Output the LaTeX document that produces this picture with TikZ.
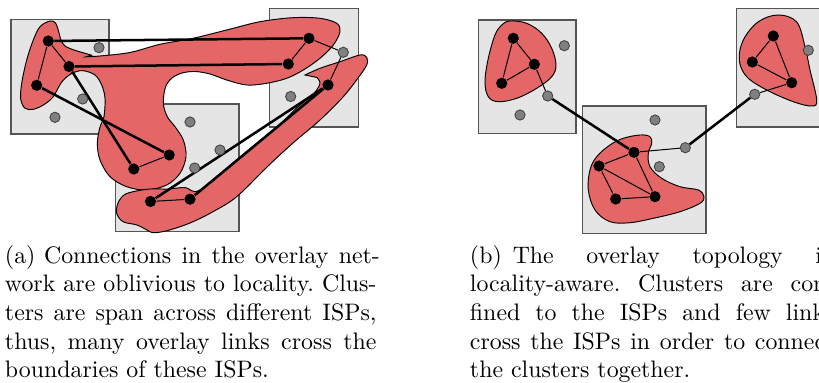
\documentclass[tikz,border=0pt]{standalone}
\definecolor{blobred}{RGB}{229,102,102}
\definecolor{ispfill}{RGB}{229,229,229}
\definecolor{ispdraw}{RGB}{85,85,85}
\definecolor{peergray}{RGB}{128,128,128}
\pgfdeclarelayer{bglayer}
\pgfdeclarelayer{blobl}
\pgfdeclarelayer{edgel}
\pgfsetlayers{bglayer,blobl,edgel,main}
\begin{document}
\frenchspacing
\begin{tikzpicture}[x=0.4193pt,y=-0.4193pt,
  peer/.style={circle,fill=black,inner sep=0pt,minimum size=4.7pt},
  idle/.style={circle,fill=peergray,draw=black!75,line width=0.35pt,inner sep=0pt,minimum size=4.3pt},
  isp/.style={fill=ispfill,draw=ispdraw,line width=0.45pt},
  blob/.style={fill=blobred,draw=black,line width=0.4pt},
  thinlink/.style={line width=0.42pt},
  thicklink/.style={line width=1.05pt},
  capline/.style={anchor=base west,inner sep=0pt}]
\useasboundingbox (0,0) rectangle (819,383);

% ---------------- (a) ----------------
\begin{pgfonlayer}{bglayer}
\draw[isp] (11,19.3) rectangle (109,134);
\draw[isp] (115.7,104) rectangle (239,231.5);
\draw[isp] (269.3,8.3) rectangle (358.3,127);
\end{pgfonlayer}
\begin{pgfonlayer}{blobl}
\draw[blob] plot[smooth,tension=0.55] coordinates {(86,56.8) (100,56) (130,52.5) (160,44.3) (193,38.3) (226.7,30) (260,21.7) (293,17.7) (320,18.3) (336.7,23.3) (340,31.7) (333.3,45) (320,58.3) (303.3,70) (286.7,78.3) (266.7,83.3) (246.7,85) (226.7,80) (210,74) (195,71.5) (182,73) (172,78) (165.5,87) (163.3,103.3) (167.3,116.7) (175,126.7) (183.3,140) (186,156.7) (180,173.3) (166.7,185) (146.7,190) (126.7,186.7) (110,176.7) (100,160) (97.3,143.3) (100,127) (104,116.7) (105,98.3) (101.7,85) (95,75) (83,70.7) (72,73.3) (62,81.7) (53,97) (43.3,105) (33.3,109.3) (25,108.3) (20.7,99) (21.7,83.3) (26.7,60) (33.3,40) (40,26.7) (50,21) (55.5,23) (58.5,31) (61,40) (65,46) (74,50) (85,53.3) (91.5,55.2)} -- cycle;
\draw[blob] plot[smooth,tension=0.55] coordinates {(305,75) (320,68.3) (340,61.7) (360,55) (366.7,57.3) (366.7,65) (358,78) (343,97) (320,120) (293,143) (267,167) (236.7,196.7) (213,211.7) (190,223) (167,230.7) (153,232.7) (147,230) (137,225) (123,221.7) (116.7,213.3) (118,203) (124,195) (134,191.5) (150,189) (168,189) (185,187.5) (200,190) (240,157) (280,124) (296,108.5) (306,100) (316,91) (320,83) (317,77.5)} -- cycle;
\end{pgfonlayer}

\node[peer] (a1) at (48.3,41) {};
\node[peer] (a2) at (69,66.5) {};
\node[peer] (a3) at (36.7,85.3) {};
\node[peer] (a4) at (133.8,169) {};
\node[peer] (a5) at (169.2,155) {};
\node[peer] (a6) at (309,38.3) {};
\node[peer] (a7) at (288.3,64) {};
\node[peer] (a8) at (328,85) {};
\node[peer] (a9) at (150.5,201.5) {};
\node[peer] (a10) at (190,199.2) {};
\node[idle] (ag1) at (99,47.7) {};
\node[idle] (ag2) at (82.7,99) {};
\node[idle] (ag3) at (55,117.3) {};
\node[idle] (ag4) at (190,122) {};
\node[idle] (ag5) at (220,150) {};
\node[idle] (ag6) at (194.7,168) {};
\node[idle] (ag7) at (343.3,52.3) {};
\node[idle] (ag8) at (290.7,96.5) {};

\begin{pgfonlayer}{edgel}
\draw[thicklink] (a1) -- (a6);
\draw[thicklink] (a2) -- (a7);
\draw[thicklink] (a3) -- (a5);
\draw[thicklink] (a2) -- (a4);
\draw[thicklink] (a8) -- (a9);
\draw[thicklink] (a8) -- (a10);
\draw[thinlink] (a1) -- (a2);
\draw[thinlink] (a1) -- (a3);
\draw[thinlink] (a4) -- (a5);
\draw[thinlink] (a6) -- (a7);
\draw[thinlink] (a6) -- (ag7);
\draw[thinlink] (ag7) -- (a8);
\draw[thinlink] (a9) -- (a10);
\end{pgfonlayer}

% ---------------- (b) ----------------
\begin{pgfonlayer}{bglayer}
\draw[isp] (478.3,20) rectangle (576,133.3);
\draw[isp] (582.7,106) rectangle (706,233.3);
\draw[isp] (736.7,8.3) rectangle (830,127);
\end{pgfonlayer}
\begin{pgfonlayer}{blobl}
\draw[blob] plot[smooth cycle,tension=0.6] coordinates {(510,21) (526.7,23.3) (541.7,33.3) (551.7,48.3) (556,65) (551.7,76.7) (536.7,88.3) (516.7,98.3) (498.3,101.7) (488.3,96.7) (485,81.7) (488.3,58.3) (495,35) (501.7,25)};
\draw[blob] plot[smooth cycle,tension=0.6] coordinates {(623.3,138.3) (640,135) (650,136.7) (651.7,143.3) (648.3,153.3) (650,166.7) (661.7,178.3) (680,186.7) (698.3,190) (704,196.7) (700,203.3) (680,211.7) (653.3,218.3) (630,222.7) (610,221.7) (595,210) (588.3,190) (590,170) (596.7,156.7) (610,145)};
\draw[blob] plot[smooth cycle,tension=0.6] coordinates {(778,15) (796.7,22) (805,46.7) (810,70) (816.7,100) (811.7,106) (793.3,101.7) (766.7,90) (746.7,76.7) (739.3,60) (743.3,40) (758,22)};
\end{pgfonlayer}

\node[peer] (b1) at (513.3,38.3) {};
\node[peer] (b2) at (534.3,64.3) {};
\node[peer] (b3) at (501.7,83.3) {};
\node[peer] (b4) at (599,166) {};
\node[peer] (b5) at (634,152.3) {};
\node[peer] (b6) at (773.3,36) {};
\node[peer] (b7) at (752.3,62) {};
\node[peer] (b8) at (791.7,82.7) {};
\node[peer] (b9) at (615.7,199) {};
\node[peer] (b10) at (655,196.7) {};
\node[idle] (bg1) at (564.3,45.7) {};
\node[idle] (bg2) at (547.7,96) {};
\node[idle] (bg3) at (520,115) {};
\node[idle] (bg4) at (655,120) {};
\node[idle] (bg5) at (685.3,147.7) {};
\node[idle] (bg6) at (659.3,166.7) {};
\node[idle] (bg7) at (808.3,50.3) {};
\node[idle] (bg8) at (754.7,94.3) {};

\begin{pgfonlayer}{edgel}
\draw[thinlink] (b1) -- (b2);
\draw[thinlink] (b1) -- (b3);
\draw[thinlink] (b2) -- (b3);
\draw[thinlink] (b2) -- (bg2);
\draw[thicklink] (bg2) -- (b5);
\draw[thinlink] (b5) -- (b4);
\draw[thinlink] (b4) -- (b9);
\draw[thinlink] (b9) -- (b10);
\draw[thinlink] (b10) -- (b5);
\draw[thinlink] (b4) -- (b10);
\draw[thinlink] (b5) -- (bg5);
\draw[thicklink] (bg5) -- (bg8);
\draw[thinlink] (bg8) -- (b8);
\draw[thinlink] (b6) -- (b7);
\draw[thinlink] (b6) -- (b8);
\draw[thinlink] (b7) -- (b8);
\end{pgfonlayer}

% ---------------- captions ----------------
\node[capline] (ca1) at (4.5,263.3) {(a)\hspace{3.6pt}\makebox[140.8pt][s]{Connections in the overlay net-}};
\node[capline] (ca2) at (4.5,291.9) {\makebox[155.8pt][s]{work are oblivious to locality. Clus-}};
\node[capline] (ca3) at (4.5,320.5) {\makebox[155.8pt][s]{ters are span across different ISPs,}};
\node[capline] (ca4) at (4.5,349.1) {\makebox[155.8pt][s]{thus, many overlay links cross the}};
\node[capline] (ca5) at (4.5,377.7) {boundaries of these ISPs.};

\node[capline] (cb1) at (469.5,263.3) {(b)\hspace{4.6pt}\makebox[133.6pt][s]{The overlay topology is}};
\node[capline] (cb2) at (469.5,291.9) {\makebox[152.8pt][s]{locality-aware. Clusters are con-}};
\node[capline] (cb3) at (469.5,320.5) {\makebox[152.8pt][s]{fined to the ISPs and few links}};
\node[capline] (cb4) at (469.5,349.1) {\makebox[152.8pt][s]{cross the ISPs in order to connect}};
\node[capline] (cb5) at (469.5,377.7) {the clusters together.};
\end{tikzpicture}
\end{document}
